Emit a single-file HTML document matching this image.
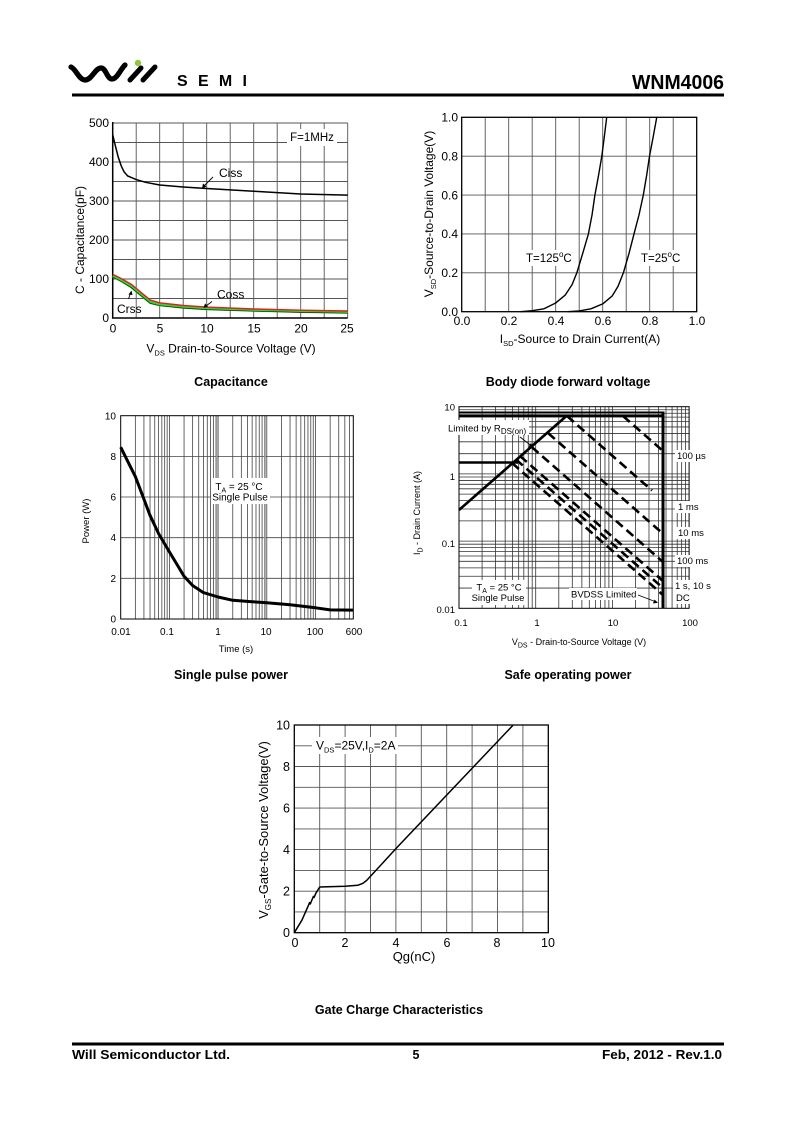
<!DOCTYPE html>
<html><head><meta charset="utf-8"><style>
html,body{margin:0;padding:0;background:#fff;}
svg{display:block;}
text{font-family:"Liberation Sans",Arial,sans-serif;fill:#000;}
.b{font-weight:bold;}
</style></head><body>
<svg width="800" height="1132" viewBox="0 0 800 1132" xmlns="http://www.w3.org/2000/svg">
<rect width="800" height="1132" fill="#fff"/>

<!-- Header -->
<path d="M71,67 C76,69 79,80 85,80 C92,80 95,68 101,68 C106,68 107,79 112,79 C117,79 120,70 125,65" fill="none" stroke="#000" stroke-width="5.2" stroke-linecap="round"/>
<line x1="130" y1="80" x2="141" y2="68" stroke="#000" stroke-width="5" stroke-linecap="round"/>
<line x1="143" y1="80" x2="155" y2="67" stroke="#000" stroke-width="5" stroke-linecap="round"/>
<circle cx="138" cy="63" r="3.2" fill="#8dc63f"/>
<text x="177" y="86" font-size="16" font-weight="bold" textLength="70" lengthAdjust="spacing">SEMI</text>
<text x="724" y="89" font-size="20" class="b" text-anchor="end" textLength="92" lengthAdjust="spacingAndGlyphs">WNM4006</text>
<rect x="72" y="93.5" width="652" height="3" fill="#000"/>

<!-- ===== Capacitance ===== -->
<g stroke="#555" stroke-width="0.9" fill="none">
<path d="M136.2 123V318M159.7 123V318M183.2 123V318M206.7 123V318M230.2 123V318M253.7 123V318M277.2 123V318M300.7 123V318M324.2 123V318M347.7 123V318"/>
<path d="M112.7 123H347.7M112.7 142.5H347.7M112.7 162H347.7M112.7 181.5H347.7M112.7 201H347.7M112.7 220.5H347.7M112.7 240H347.7M112.7 259.5H347.7M112.7 279H347.7M112.7 298.5H347.7"/>
</g>
<path d="M112.7 122V318H347.7" fill="none" stroke="#000" stroke-width="1.5"/>
<rect x="287" y="129" width="50" height="17" fill="#fff"/>
<text x="312" y="141" font-size="11.5" text-anchor="middle">F=1MHz</text>
<polyline points="112.7,134.7 115.5,146.4 118.3,157.3 121.2,165.9 124,171.75 127.7,176 136.2,179.55 145.6,182.3 159.7,185 183.2,187 206.7,188.5 253.7,191.25 300.7,194 347.7,195.15" fill="none" stroke="#000" stroke-width="1.5"/>
<polyline points="112.7,275.9 122.1,281 131.5,286.8 140.9,294.6 150.3,302.4 159.7,304.7 183.2,307.1 206.7,308.6 253.7,310.2 300.7,311.4 347.7,312.2" fill="none" stroke="#2fd82f" stroke-width="3.2"/>
<polyline points="112.7,277 122.1,282 131.5,287.8 140.9,295.6 150.3,303.4 159.7,305.7 183.2,308.1 206.7,309.6 253.7,311.2 300.7,312.4 347.7,313.2" fill="none" stroke="#222" stroke-width="0.7"/>
<polyline points="112.7,274.3 122.1,279 131.5,284.5 140.9,292.3 150.3,300.1 159.7,302.8 183.2,305.5 206.7,307.1 253.7,309 300.7,310.2 347.7,311" fill="none" stroke="#e02020" stroke-width="1.4"/>
<text x="219" y="177" font-size="12">Ciss</text>
<line x1="213" y1="177" x2="204" y2="186" stroke="#000" stroke-width="0.9"/>
<polygon points="202,188.5 203,183.5 206.5,186.5" fill="#000"/>
<text x="217" y="298.5" font-size="12">Coss</text>
<line x1="212" y1="301.5" x2="206" y2="306" stroke="#000" stroke-width="0.9"/>
<polygon points="203.5,308 205,303.5 208,306.5" fill="#000"/>
<text x="117" y="313" font-size="12">Crss</text>
<line x1="128.5" y1="299" x2="130.5" y2="293" stroke="#000" stroke-width="0.9"/>
<polygon points="131.5,290.5 128.5,294.5 132.5,295" fill="#000"/>
<g font-size="12" text-anchor="end">
<text x="109" y="127">500</text><text x="109" y="166">400</text><text x="109" y="205">300</text><text x="109" y="244">200</text><text x="109" y="283">100</text><text x="109" y="322">0</text>
</g>
<g font-size="12" text-anchor="middle">
<text x="113" y="332.5">0</text><text x="160" y="332.5">5</text><text x="207" y="332.5">10</text><text x="254" y="332.5">15</text><text x="301" y="332.5">20</text><text x="347" y="332.5">25</text>
</g>
<text x="231" y="352.5" font-size="12" text-anchor="middle">V<tspan font-size="7.5" dy="3">DS</tspan><tspan dy="-3"> Drain-to-Source Voltage (V)</tspan></text>
<text transform="translate(84,240) rotate(-90)" font-size="12" text-anchor="middle">C - Capacitance(pF)</text>
<text x="231" y="386" font-size="12.5" class="b" text-anchor="middle">Capacitance</text>

<!-- ===== Body diode ===== -->
<g stroke="#555" stroke-width="0.9" fill="none">
<path d="M485.2 117.3V311.7M508.7 117.3V311.7M532.2 117.3V311.7M555.7 117.3V311.7M579.2 117.3V311.7M602.7 117.3V311.7M626.2 117.3V311.7M649.7 117.3V311.7M673.2 117.3V311.7"/>
<path d="M461.7 272.8H696.7M461.7 233.9H696.7M461.7 195.1H696.7M461.7 156.2H696.7"/>
</g>
<rect x="461.7" y="117.3" width="235" height="194.4" fill="none" stroke="#000" stroke-width="1.3"/>
<rect x="523" y="250" width="52" height="16" fill="#fff"/>
<rect x="638" y="250" width="48" height="16" fill="#fff"/>
<polyline points="520.45,311.7 532.2,310.7 543.95,308.8 555.7,302.95 565.1,295.2 572.15,284.5 576.85,272.8 582.7,253.4 588.4,233.9 592.1,214.5 594.9,195.1 598.5,175.6 601.8,156.2 604.3,136.7 606.7,117.3" fill="none" stroke="#000" stroke-width="1.4" stroke-linejoin="round"/>
<polyline points="567.45,311.7 579.2,310.9 590.95,308.8 602.7,303.9 612.1,296.1 618,286.4 623.4,272.8 629,253.4 634,233.9 639.1,214.5 643.3,195.1 646.6,175.6 649.5,156.2 653.2,136.7 656.75,117.3" fill="none" stroke="#000" stroke-width="1.4" stroke-linejoin="round"/>
<text x="526" y="262" font-size="11.5">T=125<tspan font-size="8" dy="-5">o</tspan><tspan dy="5">C</tspan></text>
<text x="641" y="262" font-size="11.5">T=25<tspan font-size="8" dy="-5">o</tspan><tspan dy="5">C</tspan></text>
<g font-size="12" text-anchor="end">
<text x="458" y="121.5">1.0</text><text x="458" y="160.5">0.8</text><text x="458" y="199.5">0.6</text><text x="458" y="238">0.4</text><text x="458" y="277">0.2</text><text x="458" y="316">0.0</text>
</g>
<g font-size="12" text-anchor="middle">
<text x="462" y="325">0.0</text><text x="509" y="325">0.2</text><text x="556" y="325">0.4</text><text x="603" y="325">0.6</text><text x="650" y="325">0.8</text><text x="697" y="325">1.0</text>
</g>
<text x="580" y="343" font-size="12" text-anchor="middle">I<tspan font-size="7.5" dy="3">SD</tspan><tspan dy="-3">-Source to Drain Current(A)</tspan></text>
<text transform="translate(433,214) rotate(-90)" font-size="12" text-anchor="middle">V<tspan font-size="7.5" dy="3">SD</tspan><tspan dy="-3">-Source-to-Drain Voltage(V)</tspan></text>
<text x="568" y="386" font-size="12.5" class="b" text-anchor="middle">Body diode forward voltage</text>

<!-- ===== Single pulse power ===== -->
<g stroke="#444" stroke-width="0.8" fill="none">
<path d="M135.36 415.7V619M143.93 415.7V619M150.02 415.7V619M154.74 415.7V619M158.59 415.7V619M161.85 415.7V619M164.68 415.7V619M167.16 415.7V619M169.4 415.7V619M184.06 415.7V619M192.63 415.7V619M198.72 415.7V619M203.44 415.7V619M207.29 415.7V619M210.55 415.7V619M213.38 415.7V619M215.86 415.7V619M218.1 415.7V619M232.76 415.7V619M241.33 415.7V619M247.42 415.7V619M252.14 415.7V619M255.99 415.7V619M259.25 415.7V619M262.08 415.7V619M264.56 415.7V619M266.8 415.7V619M281.46 415.7V619M290.03 415.7V619M296.12 415.7V619M300.84 415.7V619M304.69 415.7V619M307.95 415.7V619M310.78 415.7V619M313.26 415.7V619M315.5 415.7V619M330.16 415.7V619M338.73 415.7V619M344.82 415.7V619M349.54 415.7V619"/>
<path d="M120.7 578.3H353.3M120.7 537.7H353.3M120.7 497H353.3M120.7 456.4H353.3"/>
</g>
<g stroke="#999" stroke-width="1.6" fill="none"><path d="M216.5 415.7V619M265 415.7V619"/></g>
<rect x="120.7" y="415.7" width="232.6" height="203.3" fill="none" stroke="#000" stroke-width="1"/>
<rect x="211" y="478" width="59" height="26" fill="#fff"/>
<text x="239" y="490" font-size="10" text-anchor="middle">T<tspan font-size="7" dy="2.5">A</tspan><tspan dy="-2.5"> = 25 °C</tspan></text>
<text x="240" y="500.5" font-size="10" text-anchor="middle">Single Pulse</text>
<polyline points="120.7,447.2 135.4,476.7 143.9,499.1 150,515.3 158.6,533.6 169.4,551.9 178,566.1 184.1,576.3 192.6,585.5 203.4,592.6 218.1,597 232.8,600.3 252.1,601.7 266.8,602.7 290,604.8 315.5,607.8 330.2,609.9 353.3,610.1" fill="none" stroke="#000" stroke-width="3" stroke-linejoin="round"/>
<g font-size="10" text-anchor="end">
<text x="116" y="419.5">10</text><text x="116" y="460">8</text><text x="116" y="500.5">6</text><text x="116" y="541">4</text><text x="116" y="582">2</text><text x="116" y="622.5">0</text>
</g>
<g font-size="10" text-anchor="middle">
<text x="121" y="635">0.01</text><text x="167" y="635">0.1</text><text x="218" y="635">1</text><text x="266" y="635">10</text><text x="315" y="635">100</text><text x="354" y="635">600</text>
</g>
<text x="236" y="652" font-size="9.5" text-anchor="middle">Time (s)</text>
<text transform="translate(89,521) rotate(-90)" font-size="9.5" text-anchor="middle">Power  (W)</text>
<text x="231" y="679" font-size="12.5" class="b" text-anchor="middle">Single pulse power</text>

<!-- ===== SOA ===== -->
<g stroke="#333" stroke-width="0.8" fill="none">
<path d="M482.09 406.7V608.3M495.59 406.7V608.3M505.17 406.7V608.3M512.61 406.7V608.3M518.68 406.7V608.3M523.81 406.7V608.3M528.26 406.7V608.3M532.19 406.7V608.3M535.7 406.7V608.3M558.79 406.7V608.3M572.29 406.7V608.3M581.87 406.7V608.3M589.31 406.7V608.3M595.38 406.7V608.3M600.51 406.7V608.3M604.96 406.7V608.3M608.89 406.7V608.3M612.4 406.7V608.3M635.49 406.7V608.3M648.99 406.7V608.3M658.57 406.7V608.3M666.01 406.7V608.3M672.08 406.7V608.3M677.21 406.7V608.3M681.66 406.7V608.3M685.59 406.7V608.3"/>
<path d="M459 588.07H689.1M459 576.23H689.1M459 567.84H689.1M459 561.33H689.1M459 556.01H689.1M459 551.51H689.1M459 547.62H689.1M459 544.18H689.1M459 541.1H689.1M459 520.87H689.1M459 509.03H689.1M459 500.64H689.1M459 494.13H689.1M459 488.81H689.1M459 484.31H689.1M459 480.42H689.1M459 476.98H689.1M459 473.9H689.1M459 453.67H689.1M459 441.83H689.1M459 433.44H689.1M459 426.93H689.1M459 421.61H689.1M459 417.11H689.1M459 413.22H689.1M459 409.78H689.1"/>
</g>
<rect x="459" y="406.7" width="230.1" height="201.6" fill="none" stroke="#000" stroke-width="1"/>
<!-- label backgrounds -->
<rect x="447" y="420" width="82" height="15" fill="#fff"/>
<rect x="472" y="580" width="54" height="25" fill="#fff"/>
<rect x="569" y="588" width="68" height="12" fill="#fff"/>
<rect x="675" y="450" width="36" height="12" fill="#fff"/>
<rect x="675" y="501" width="26" height="12" fill="#fff"/>
<rect x="675" y="527" width="30" height="12" fill="#fff"/>
<rect x="675" y="555" width="36" height="12" fill="#fff"/>
<rect x="673" y="580" width="42" height="24" fill="#fff"/>
<!-- thick lines -->
<g stroke="#000" fill="none">
<line x1="459" y1="412.3" x2="663" y2="412.3" stroke-width="1.5"/>
<line x1="459" y1="415.7" x2="663" y2="415.7" stroke-width="2.6"/>
<line x1="663" y1="411.5" x2="663" y2="608.3" stroke-width="3"/>
<line x1="459" y1="462.5" x2="518" y2="462.5" stroke-width="2.6"/>
<line x1="459" y1="510" x2="567" y2="415.5" stroke-width="2.6"/>
</g>
<g stroke="#000" fill="none" stroke-width="2.6" stroke-dasharray="9,5">
<line x1="623" y1="416" x2="663" y2="451"/>
<line x1="567" y1="416" x2="652" y2="490.5"/>
<line x1="548" y1="433" x2="663" y2="533.7"/>
<line x1="531.7" y1="447" x2="663" y2="562"/>
<line x1="520" y1="456" x2="663" y2="581"/>
<line x1="516" y1="459.5" x2="663" y2="588"/>
<line x1="512" y1="463" x2="663" y2="595"/>
</g>
<g font-size="9.5">
<text x="677" y="459">100 µs</text>
<text x="678" y="510">1 ms</text>
<text x="678" y="536">10 ms</text>
<text x="677" y="564">100 ms</text>
<text x="675" y="589">1 s, 10 s</text>
<text x="676" y="601">DC</text>
</g>
<text x="448" y="431.5" font-size="9.5">Limited by R<tspan font-size="8" dy="2.5">DS(on)</tspan></text>
<line x1="520" y1="437" x2="531" y2="445.5" stroke="#000" stroke-width="0.8"/>
<polygon points="533.5,447.5 528.5,446.5 531,443" fill="#000"/>
<text x="499" y="590.5" font-size="9.5" text-anchor="middle">T<tspan font-size="7" dy="2.5">A</tspan><tspan dy="-2.5"> = 25 °C</tspan></text>
<text x="498" y="601" font-size="9.5" text-anchor="middle">Single Pulse</text>
<text x="571" y="597.5" font-size="9.5">BVDSS Limited</text>
<line x1="638" y1="595" x2="655" y2="601.5" stroke="#000" stroke-width="0.8"/>
<polygon points="658,602.7 653,603.5 654.5,599.5" fill="#000"/>
<g font-size="9.5" text-anchor="end">
<text x="455" y="410.5">10</text><text x="455" y="480">1</text><text x="455" y="547">0.1</text><text x="455" y="613">0.01</text>
</g>
<g font-size="9.5" text-anchor="middle">
<text x="461" y="626">0.1</text><text x="537" y="626">1</text><text x="613" y="626">10</text><text x="690" y="626">100</text>
</g>
<text x="579" y="645" font-size="9" text-anchor="middle">V<tspan font-size="7" dy="2.5">DS</tspan><tspan dy="-2.5"> - Drain-to-Source Voltage (V)</tspan></text>
<text transform="translate(420,513) rotate(-90)" font-size="9" text-anchor="middle">I<tspan font-size="7" dy="2.5">D</tspan><tspan dy="-2.5"> - Drain Current (A)</tspan></text>
<text x="568" y="679" font-size="12.5" class="b" text-anchor="middle">Safe operating power</text>

<!-- ===== Gate charge ===== -->
<g stroke="#555" stroke-width="0.9" fill="none">
<path d="M319.7 725V932.7M345.1 725V932.7M370.5 725V932.7M395.9 725V932.7M421.3 725V932.7M446.7 725V932.7M472.1 725V932.7M497.5 725V932.7M522.9 725V932.7"/>
<path d="M294.3 911.9H548.3M294.3 891.2H548.3M294.3 870.4H548.3M294.3 849.6H548.3M294.3 828.9H548.3M294.3 808.1H548.3M294.3 787.3H548.3M294.3 766.5H548.3M294.3 745.8H548.3"/>
</g>
<rect x="294.3" y="725" width="254" height="207.7" fill="none" stroke="#000" stroke-width="1.3"/>
<rect x="312" y="737" width="86" height="17" fill="#fff"/>
<text x="316" y="749.5" font-size="12">V<tspan font-size="7.5" dy="3">DS</tspan><tspan dy="-3">=25V,I</tspan><tspan font-size="7.5" dy="3">D</tspan><tspan dy="-3">=2A</tspan></text>
<polyline points="294.3,932.7 301.9,920.2 308.3,905.7 309.5,902.6 310.3,904 312.1,899.5 313.4,896.4 314.1,897.4 315.9,893.2 319.7,887 332.4,886.6 345.1,886.2 357.8,885.3 362.9,883.3 366.7,880.4 370.5,876.2 383.2,862.5 395.9,848.6 513.2,725" fill="none" stroke="#000" stroke-width="1.5" stroke-linejoin="round"/>
<g font-size="12.5" text-anchor="end">
<text x="290" y="729.5">10</text><text x="290" y="771">8</text><text x="290" y="812.5">6</text><text x="290" y="854">4</text><text x="290" y="895.5">2</text><text x="290" y="937">0</text>
</g>
<g font-size="12.5" text-anchor="middle">
<text x="295" y="947">0</text><text x="345" y="947">2</text><text x="396" y="947">4</text><text x="447" y="947">6</text><text x="497" y="947">8</text><text x="548" y="947">10</text>
</g>
<text x="414" y="961" font-size="13" text-anchor="middle">Qg(nC)</text>
<text transform="translate(268,830) rotate(-90)" font-size="13" text-anchor="middle">V<tspan font-size="8" dy="3">GS</tspan><tspan dy="-3">-Gate-to-Source Voltage(V)</tspan></text>
<text x="399" y="1014" font-size="12.5" class="b" text-anchor="middle">Gate Charge Characteristics</text>

<!-- Footer -->
<rect x="72" y="1042.5" width="652" height="3" fill="#000"/>
<text x="72" y="1059" font-size="12.5" class="b" textLength="158" lengthAdjust="spacingAndGlyphs">Will Semiconductor Ltd.</text>
<text x="416" y="1059" font-size="12.5" class="b" text-anchor="middle">5</text>
<text x="722" y="1059" font-size="12.5" class="b" text-anchor="end" textLength="120" lengthAdjust="spacingAndGlyphs">Feb, 2012 - Rev.1.0</text>
</svg>
</body></html>
